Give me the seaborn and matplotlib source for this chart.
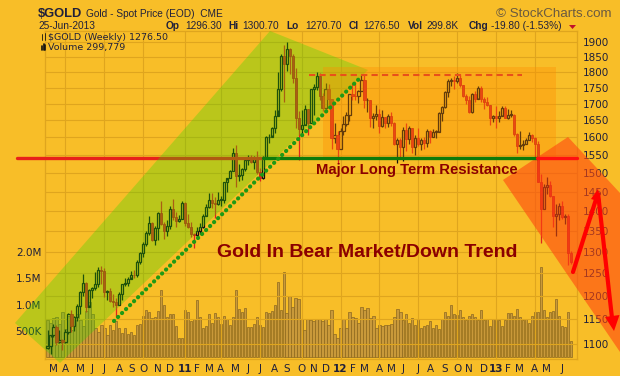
import numpy as np
import pandas as pd
import matplotlib
matplotlib.use("Agg")
import matplotlib.pyplot as plt
import seaborn as sns
from matplotlib.patches import Polygon
from matplotlib.lines import Line2D

# ---------------- data (weekly, $GOLD) ----------------
weeks = pd.date_range("2010-02-15", "2013-06-24", freq="W-MON")

opens = [1092, 1097, 1118, 1134, 1103, 1107, 1104, 1125, 1161, 1136, 1155, 1179, 1209, 1228, 1177, 1212,
         1218, 1227, 1257, 1256, 1209, 1210, 1189, 1188, 1181, 1205, 1226, 1229, 1237, 1247, 1246, 1276,
         1296, 1318, 1345, 1369, 1327, 1357, 1394, 1367, 1350, 1362, 1406, 1385, 1375, 1380,
         1421, 1369, 1360, 1342, 1341, 1349, 1360, 1388, 1409, 1428, 1421, 1417, 1428, 1429, 1474, 1486,
         1504, 1556, 1491, 1493, 1510, 1536, 1542, 1530, 1540, 1501, 1486, 1544, 1600, 1601, 1628, 1663,
         1746, 1852, 1828, 1876, 1855, 1780, 1657, 1624, 1636, 1683, 1642, 1745, 1753, 1788, 1725, 1687,
         1746, 1715, 1598, 1606,
         1565, 1617, 1640, 1665, 1730, 1725, 1723, 1741, 1776, 1710, 1711, 1658, 1663, 1669, 1632, 1659,
         1643, 1663, 1643, 1580, 1591, 1571, 1622, 1595, 1627, 1571, 1598, 1580, 1592, 1583, 1619, 1601,
         1615, 1616, 1672, 1690, 1737, 1770, 1773, 1772, 1781, 1759, 1724, 1712, 1676, 1731, 1714, 1750,
         1714, 1704, 1697, 1657,
         1663, 1656, 1664, 1687, 1658, 1667, 1667, 1610, 1574, 1577, 1579, 1593, 1606, 1597, 1580, 1476,
         1406, 1462, 1468, 1437, 1387, 1391, 1412, 1385, 1387, 1296.3]
highs = [1128, 1114, 1140, 1138, 1128, 1110, 1130, 1163, 1170, 1157, 1182, 1211, 1249, 1231, 1216, 1220,
         1254, 1264, 1266, 1262, 1212, 1218, 1205, 1195, 1209, 1227, 1239, 1241, 1255, 1258, 1280, 1300,
         1323, 1349, 1387, 1371, 1363, 1398, 1424, 1371, 1377, 1412, 1431, 1398, 1390, 1424,
         1423, 1392, 1373, 1346, 1359, 1369, 1391, 1417, 1445, 1446, 1435, 1448, 1439, 1476, 1480, 1508,
         1569, 1577, 1524, 1512, 1537, 1549, 1549, 1545, 1560, 1512, 1545, 1602, 1610, 1631, 1681, 1800,
         1860, 1890, 1902, 1880, 1860, 1812, 1677, 1681, 1695, 1684, 1747, 1762, 1802, 1797, 1733, 1764,
         1761, 1716, 1642, 1619,
         1627, 1663, 1674, 1730, 1764, 1763, 1744, 1790, 1792, 1719, 1711, 1673, 1697, 1683, 1682, 1661,
         1668, 1674, 1646, 1598, 1597, 1629, 1641, 1634, 1628, 1605, 1626, 1598, 1601, 1625, 1622, 1624,
         1621, 1675, 1693, 1741, 1778, 1780, 1787, 1796, 1791, 1758, 1729, 1723, 1734, 1738, 1754, 1754,
         1722, 1721, 1697, 1667,
         1693, 1678, 1693, 1694, 1684, 1682, 1670, 1612, 1619, 1593, 1598, 1616, 1608, 1600, 1590, 1497,
         1470, 1488, 1478, 1438, 1417, 1419, 1424, 1393, 1393, 1300.7]
lows = [1090, 1081, 1115, 1098, 1101, 1088, 1102, 1120, 1125, 1127, 1146, 1161, 1200, 1166, 1180, 1195,
        1212, 1220, 1226, 1197, 1191, 1186, 1176, 1155, 1180, 1191, 1221, 1222, 1242, 1239, 1243, 1272,
        1288, 1314, 1340, 1326, 1317, 1328, 1365, 1331, 1338, 1355, 1377, 1360, 1372, 1379,
        1362, 1356, 1335, 1308, 1330, 1342, 1357, 1390, 1408, 1407, 1381, 1415, 1412, 1421, 1449, 1485,
        1506, 1462, 1478, 1480, 1505, 1520, 1527, 1511, 1496, 1478, 1483, 1542, 1584, 1605, 1611, 1681,
        1740, 1705, 1803, 1795, 1765, 1627, 1535, 1603, 1640, 1605, 1641, 1667, 1743, 1712, 1678, 1684,
        1695, 1566, 1583, 1523,
        1565, 1606, 1632, 1647, 1710, 1712, 1702, 1740, 1688, 1674, 1630, 1627, 1652, 1612, 1630, 1627,
        1630, 1633, 1577, 1527, 1537, 1532, 1560, 1580, 1556, 1549, 1576, 1564, 1566, 1573, 1583, 1600,
        1598, 1617, 1648, 1686, 1722, 1754, 1745, 1764, 1752, 1720, 1698, 1672, 1673, 1706, 1718, 1704,
        1684, 1693, 1635, 1644,
        1626, 1645, 1665, 1656, 1654, 1660, 1603, 1554, 1565, 1562, 1580, 1593, 1587, 1539, 1476, 1321,
        1405, 1444, 1435, 1359, 1338, 1376, 1380, 1366, 1269, 1270.7]
closes = [1096, 1118, 1134, 1103, 1107, 1104, 1125, 1161, 1136, 1155, 1179, 1209, 1228, 1177, 1212, 1218,
          1227, 1257, 1256, 1209, 1210, 1189, 1188, 1181, 1205, 1226, 1229, 1237, 1247, 1246, 1276, 1296,
          1318, 1345, 1369, 1327, 1357, 1394, 1367, 1350, 1362, 1406, 1385, 1375, 1380, 1421,
          1369, 1360, 1342, 1341, 1349, 1360, 1388, 1409, 1428, 1421, 1417, 1428, 1429, 1474, 1486, 1504,
          1556, 1491, 1493, 1510, 1536, 1542, 1530, 1540, 1501, 1486, 1544, 1600, 1601, 1628, 1663, 1746,
          1852, 1828, 1876, 1855, 1780, 1657, 1624, 1636, 1683, 1642, 1745, 1753, 1788, 1725, 1687, 1746,
          1715, 1598, 1606, 1565,
          1617, 1640, 1665, 1730, 1725, 1723, 1741, 1776, 1710, 1711, 1658, 1663, 1669, 1632, 1659, 1643,
          1663, 1643, 1580, 1591, 1571, 1622, 1595, 1627, 1571, 1598, 1580, 1592, 1583, 1619, 1601, 1615,
          1616, 1672, 1690, 1737, 1770, 1773, 1772, 1781, 1759, 1724, 1712, 1676, 1731, 1714, 1750, 1714,
          1704, 1697, 1657, 1663,
          1656, 1664, 1687, 1658, 1667, 1667, 1610, 1574, 1577, 1579, 1593, 1606, 1597, 1580, 1476, 1406,
          1462, 1468, 1437, 1387, 1391, 1412, 1385, 1387, 1297, 1276.5]
volume_k = [700, 650, 740, 760, 640, 860, 540, 780, 520, 720, 820, 700, 600, 880, 1050, 820,
            560, 480, 620, 560, 420, 620, 520, 680, 560, 470, 560, 450, 480, 420, 620, 640,
            780, 900, 860, 740, 760, 880, 1280, 1000, 760, 820, 820, 600, 360, 360,
            900, 860, 680, 720, 1080, 760, 560, 600, 820, 660, 840, 760, 640, 780, 720, 620,
            760, 1280, 920, 860, 940, 580, 580, 640, 760, 620, 580, 860, 840, 880, 1000, 1420,
            900, 1620, 840, 1160, 960, 1120, 1100, 720, 520, 720, 700, 680, 720, 720, 680, 720,
            620, 900, 440, 370,
            560, 720, 560, 860, 760, 740, 660, 960, 900, 940, 740, 780, 560, 620, 600, 620,
            620, 640, 760, 920, 860, 700, 820, 660, 740, 620, 700, 560, 600, 620, 680, 560,
            620, 540, 720, 860, 780, 1000, 820, 800, 900, 760, 700, 780, 820, 760, 700, 900,
            700, 720, 600, 720,
            700, 700, 600, 700, 840, 840, 780, 920, 760, 700, 720, 660, 780, 860, 860, 1720,
            900, 760, 860, 880, 1100, 780, 600, 580, 860, 300]

# ---------------- geometry of the reference ----------------
W, H = 620, 376
L, R, T, B = 45, 577, 31, 359
BG = "#F8BE28"
GRID = "#DFA51E"
TXT = "#20203A"

def P(x, y):
    return (x / W, 1 - y / H)

sns.set_theme(style="white")
plt.rcParams["font.family"] = ["DejaVu Sans"]

df = pd.DataFrame({"week": weeks, "open": opens, "high": highs, "low": lows,
                   "close": closes, "volume": np.array(volume_k) * 1000})
df["idx"] = np.arange(len(df))

fig = plt.figure(figsize=(W / 100, H / 100), dpi=100, facecolor=BG)
rect = [L / W, 1 - B / H, (R - L) / W, (B - T) / H]
axv = fig.add_axes(rect)
ax = fig.add_axes(rect, sharex=axv)
axv.set_zorder(0)
ax.set_zorder(0.5)
axv.set_facecolor(BG)
ax.patch.set_visible(False)

# volume bars (seaborn)
sns.barplot(data=df, x="idx", y="volume", native_scale=True, orient="x", ax=axv,
            color="#C9993A", saturation=1, edgecolor="#8C6820", linewidth=0.5,
            width=0.8, errorbar=None)
axv.set_ylim(-0.032e6, 6.19e6)
axv.set_yticks([0.5e6, 1.0e6, 1.5e6, 2.0e6], ["500K", "1.0M", "1.5M", "2.0M"])
axv.yaxis.tick_left()
axv.tick_params(axis="y", length=0, pad=2.5, labelsize=7.5, labelcolor=TXT)
axv.set_xlabel("")
axv.set_ylabel("")

# candles
up = df[df.close >= df.open]
dn = df[df.close < df.open]
body_lo = np.minimum(df.open, df.close)
body_hi = np.maximum(df.open, df.close)
ax.vlines(up.idx, up.low, body_lo[up.index], color="#111111", lw=0.9, zorder=3)
ax.vlines(up.idx, body_hi[up.index], up.high, color="#111111", lw=0.9, zorder=3)
ax.bar(up.idx, (up.close - up.open).clip(lower=1.5), bottom=up.open, width=0.72,
       facecolor="none", edgecolor="#111111", linewidth=0.9, zorder=3)
ax.vlines(dn.idx, dn.low, dn.high, color="#E0251C", lw=0.9, zorder=3)
ax.bar(dn.idx, (dn.open - dn.close), bottom=dn.close, width=0.72,
       facecolor="#E0251C", edgecolor="#C81E16", linewidth=0.6, zorder=3)

ax.set_yscale("log")
ax.set_ylim(1070.5, 1939.3)
pt = list(range(1100, 1901, 50))
ax.set_yticks(pt, [str(v) for v in pt])
ax.yaxis.set_minor_locator(matplotlib.ticker.NullLocator())
ax.yaxis.tick_right()
ax.tick_params(axis="y", length=0, pad=4, labelsize=7.5, labelcolor=TXT)
ax.set_xlim(-0.84, 177.1)

# month labels
fri = df.week + pd.Timedelta(days=4)
mon = fri.dt.month.values
starts = [i for i in range(1, len(df)) if mon[i] != mon[i - 1]]
letters = "JFMAMJJASOND"
labels = []
for i in starts:
    m = mon[i]
    labels.append(fri.iloc[i].strftime("%y") if m == 1 else letters[m - 1])
ax.set_xticks(starts, labels)
for t, i in zip(ax.get_xticklabels(), starts):
    if mon[i] == 1:
        t.set_fontweight("bold")
        t.set_fontsize(9)
ax.tick_params(axis="x", length=2, color=GRID, pad=1.5, labelsize=7.5, labelcolor=TXT)
quarters = [i for i in starts if mon[i] in (1, 4, 7, 10)]
ax.set_xticks(quarters, minor=True)
ax.xaxis.remove_overlapping_locs = False
ax.tick_params(axis="x", which="minor", length=0)
ax.grid(axis="y", which="major", color=GRID, lw=0.8)
ax.grid(axis="x", which="minor", color=GRID, lw=0.8)
ax.grid(axis="x", which="major", visible=False)
axv.tick_params(axis="x", bottom=False, labelbottom=False)
for a in (ax, axv):
    for s in a.spines.values():
        s.set_color(GRID)
        s.set_linewidth(0.8)

# ---------------- annotations (drawn on top, pixel geometry) ----------------
def add_poly(pts, **kw):
    fig.add_artist(Polygon([P(*p) for p in pts], closed=True, transform=fig.transFigure, **kw))

def add_line(xs, ys, **kw):
    fig.add_artist(Line2D([x / W for x in xs], [1 - y / H for y in ys],
                          transform=fig.transFigure, **kw))

add_line([17, 263], [157.5, 157.5], color="#E8201A", lw=2.4, zorder=1)
add_poly([(270, 31), (368, 70), (60, 363), (15, 323)], facecolor=(0.22, 0.85, 0.0),
         alpha=0.32, edgecolor="none", zorder=1.5)
add_poly([(323, 67), (556, 67), (556, 157), (323, 157)], facecolor=(1.0, 0.55, 0.0),
         alpha=0.35, edgecolor="none", zorder=1.5)
add_poly([(503, 180), (568, 137), (620, 193), (620, 352)], facecolor=(1.0, 0.28, 0.06),
         alpha=0.6, edgecolor="none", zorder=1.5)
add_line([263, 537], [157.5, 157.5], color="#0F7A0A", lw=2.4, zorder=2)
add_line([537, 577], [157.5, 157.5], color="#FF1010", lw=2.4, zorder=2)
add_line([309, 522], [75, 75], color="#E8501A", lw=1.5, ls=(0, (3, 2)), zorder=2)
add_line([114, 362], [321, 76], color="#1E9A14", lw=3.0, ls=(0, (0.05, 1.3)),
         dash_capstyle="round", zorder=2)
add_line([573, 598, 612], [272, 193, 318], color="#FF0000", lw=3.0, zorder=2,
         solid_joinstyle="miter")
add_poly([(614, 331), (619.5, 315), (605, 317)], facecolor="#FF0000", edgecolor="none", zorder=2)
add_poly([(598, 189), (601, 202), (591, 199)], facecolor="#FF0000", edgecolor="none", zorder=2)

fig.text(*P(316, 174), "Major Long Term Resistance", fontsize=10.7, fontweight="bold",
         color="#8B0000", family=["Liberation Sans"], ha="left", va="baseline", zorder=3)
fig.text(*P(217, 256.7), "Gold In Bear Market/Down Trend", fontsize=14.0, fontweight="bold",
         color="#8B0000", family=["Liberation Sans"], ha="left", va="baseline", zorder=3)

# ---------------- header ----------------
fig.text(*P(38, 17), "$GOLD", fontsize=9.3, fontweight="bold", color=TXT,
         family=["Liberation Sans"], va="baseline")
fig.text(*P(86, 17), "Gold - Spot Price (EOD)  CME", fontsize=7.3, color=TXT,
         family=["Liberation Sans"], va="baseline")
fig.text(*P(612, 17), "\u00a9 StockCharts.com", fontsize=9.6, color="#6A5A40",
         family=["Liberation Sans"], va="baseline", ha="right")
fig.text(*P(38, 29), "25-Jun-2013", fontsize=7.3, color=TXT, family=["Liberation Sans"],
         va="baseline")
parts = [(166, "Op", True), (185, "1296.30", False), (228, "Hi", True), (242, "1300.70", False),
         (286, "Lo", True), (305, "1270.70", False), (349, "Cl", True), (363, "1276.50", False),
         (408, "Vol", True), (426, "299.8K", False), (469, "Chg", True),
         (491, "-19.80 (-1.53%)", False)]
for x, s, b in parts:
    fig.text(*P(x, 29), s, fontsize=7.3, color=TXT, family=["Liberation Sans"], va="baseline",
             fontweight="bold" if b else "normal")
add_poly([(569, 25), (576, 25), (572.5, 29)], facecolor="#C0102A", edgecolor="none", zorder=3)

fig.text(*P(48, 40), "$GOLD (Weekly) 1276.50", fontsize=6.8, color=TXT, va="baseline")
fig.text(*P(48, 50), "Volume 299,779", fontsize=6.8, color=TXT, va="baseline")
add_line([42, 42], [34, 40], color="#111111", lw=0.6, zorder=3)
add_line([45, 45], [33, 40], color="#111111", lw=0.6, zorder=3)
for bx, bt in [(41.5, 46), (43.5, 44), (45.5, 45)]:
    add_line([bx, bx], [bt, 50], color="#111111", lw=1.2, zorder=3)

fig.savefig("out.png", dpi=100, facecolor=BG)
